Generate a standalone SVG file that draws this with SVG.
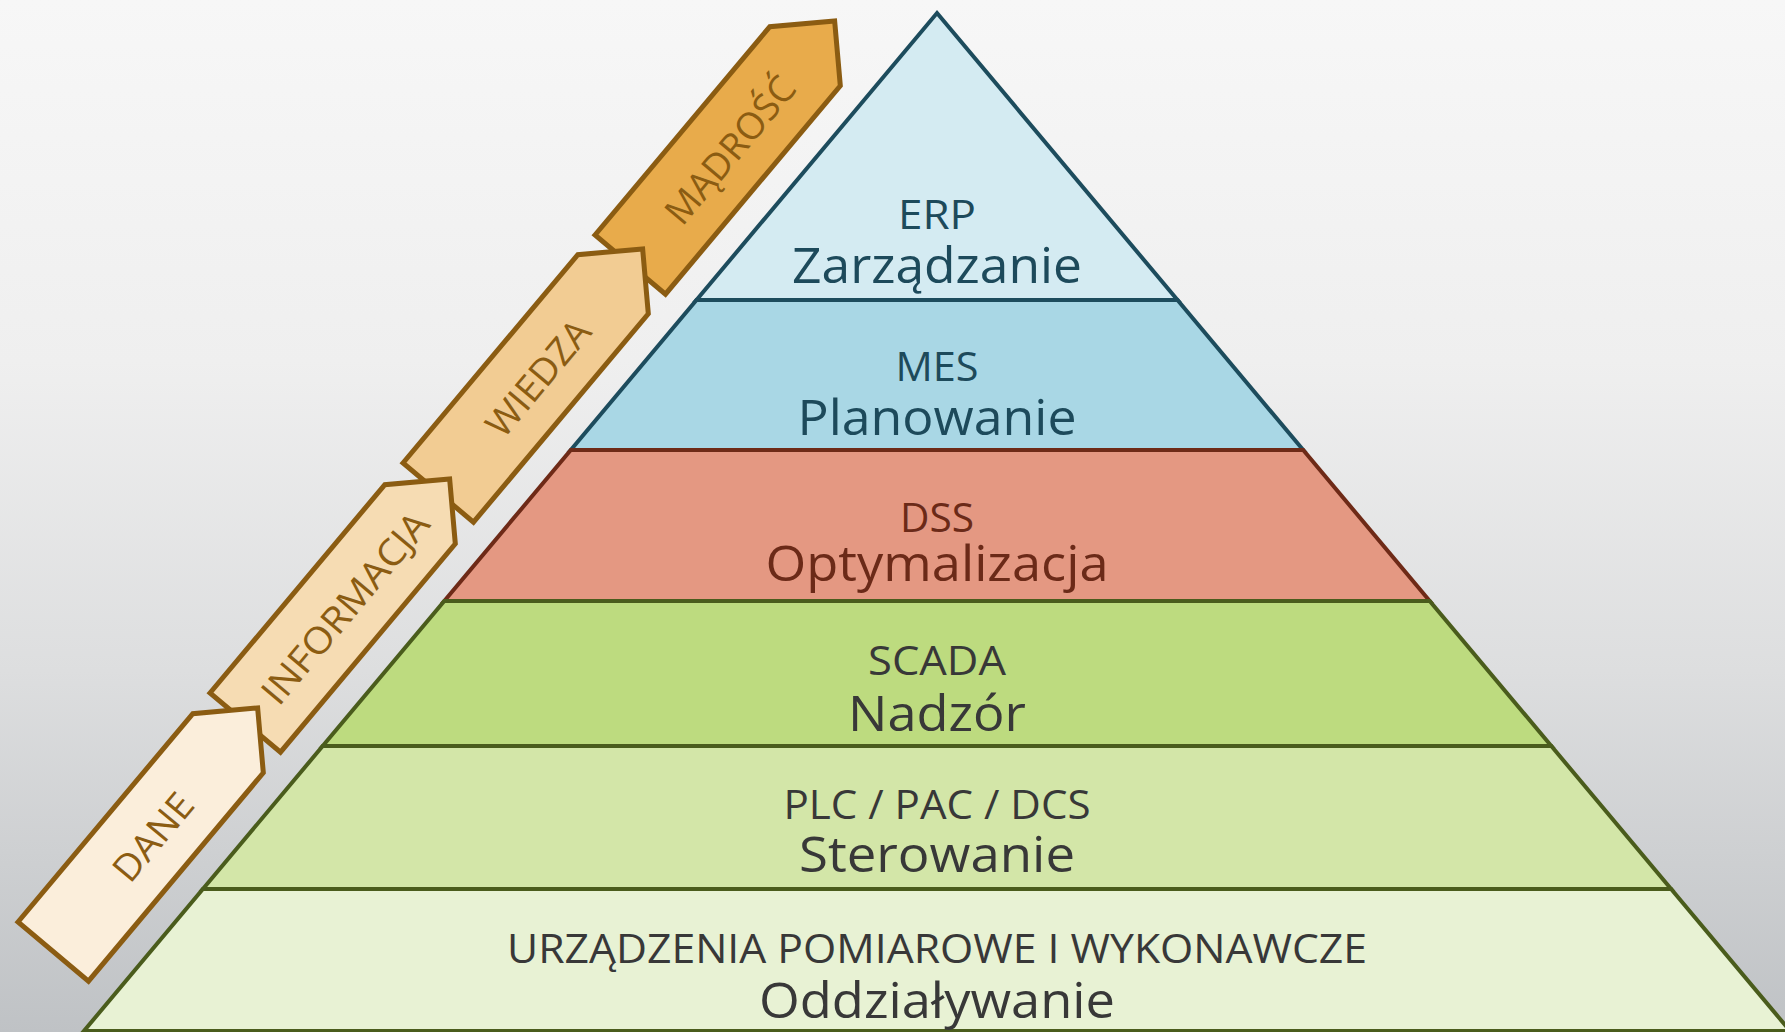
<svg xmlns="http://www.w3.org/2000/svg" width="1785" height="1032" viewBox="0 0 1785 1032">
  <defs>
    <linearGradient id="bg" x1="0" y1="0" x2="0" y2="1">
      <stop offset="0" stop-color="#f7f7f7"/>
      <stop offset="0.35" stop-color="#efefef"/>
      <stop offset="0.65" stop-color="#dddedf"/>
      <stop offset="1" stop-color="#bfc2c5"/>
    </linearGradient>
    <style>
      .layer { stroke-width: 4; stroke-linejoin: miter; }
      .blue { stroke: #1d4c5d; }
      .red { stroke: #6e2a17; }
      .green { stroke: #4a5c1c; }
      .t { font-family: "Open Sans", "Noto Sans", "DejaVu Sans", sans-serif; text-anchor: middle; }
      .small { font-size: 40px; }
      .big { font-size: 50px; }
      .tb { fill: #1d4a5b; }
      .tr { fill: #6b2a18; }
      .tg { fill: #383838; }
      .arrow { stroke: #8b5c12; stroke-width: 5; stroke-linejoin: miter; }
      .at { font-family: "Open Sans", "Noto Sans", "DejaVu Sans", sans-serif; text-anchor: middle; font-size: 37px; fill: #8b5c12; }
    </style>
  </defs>
  <rect x="0" y="0" width="1785" height="1032" fill="url(#bg)"/>

  <g id="layer-erp">
    <polygon class="layer blue" fill="#d4ebf2" points="937,13 1177.5,300 696.5,300"/>
    <text class="t small tb" x="937" y="229" textLength="78" lengthAdjust="spacingAndGlyphs">ERP</text>
    <text class="t big tb" x="937" y="283" textLength="290" lengthAdjust="spacingAndGlyphs">Zarządzanie</text>
  </g>
  <g id="layer-mes">
    <polygon class="layer blue" fill="#a9d7e5" points="696.5,300 1177.5,300 1303.2,450 570.8,450"/>
    <text class="t small tb" x="937" y="381" textLength="83" lengthAdjust="spacingAndGlyphs">MES</text>
    <text class="t big tb" x="937" y="435" textLength="279" lengthAdjust="spacingAndGlyphs">Planowanie</text>
  </g>
  <g id="layer-dss">
    <polygon class="layer red" fill="#e49882" points="570.8,450 1303.2,450 1429.7,601 444.3,601"/>
    <text class="t small tr" x="937" y="532" textLength="74" lengthAdjust="spacingAndGlyphs">DSS</text>
    <text class="t big tr" x="937" y="581" textLength="343" lengthAdjust="spacingAndGlyphs">Optymalizacja</text>
  </g>
  <g id="layer-scada">
    <polygon class="layer green" fill="#bddb7f" points="444.3,601 1429.7,601 1551.3,746 322.7,746"/>
    <text class="t small tg" x="937" y="675" textLength="138" lengthAdjust="spacingAndGlyphs">SCADA</text>
    <text class="t big tg" x="937" y="731" textLength="178" lengthAdjust="spacingAndGlyphs">Nadzór</text>
  </g>
  <g id="layer-plc">
    <polygon class="layer green" fill="#d3e6a8" points="322.7,746 1551.3,746 1671.1,889 202.9,889"/>
    <text class="t small tg" x="937" y="819" textLength="307" lengthAdjust="spacingAndGlyphs">PLC / PAC / DCS</text>
    <text class="t big tg" x="937" y="872" textLength="276" lengthAdjust="spacingAndGlyphs">Sterowanie</text>
  </g>
  <g id="layer-devices">
    <polygon class="layer green" fill="#e8f2d4" points="202.9,889 1671.1,889 1790.1,1031 83.9,1031"/>
    <text class="t small tg" x="937" y="963" textLength="860" lengthAdjust="spacingAndGlyphs">URZĄDZENIA POMIAROWE I WYKONAWCZE</text>
    <text class="t big tg" x="937" y="1018" textLength="356" lengthAdjust="spacingAndGlyphs">Oddziaływanie</text>
  </g>

  <g id="arrow-madrosc" transform="translate(595,235) rotate(-50)">
    <path class="arrow" fill="#e8ab4b" d="M0,0 L272,0 L318,46 L272,92 L0,92 Z"/>
    <text class="at" x="152" y="62" textLength="180" lengthAdjust="spacingAndGlyphs">MĄDROŚĆ</text>
  </g>
  <g id="arrow-wiedza" transform="translate(403,463) rotate(-50)">
    <path class="arrow" fill="#f2cc93" d="M0,0 L272,0 L318,46 L272,92 L0,92 Z"/>
    <text class="at" x="152" y="62" textLength="140" lengthAdjust="spacingAndGlyphs">WIEDZA</text>
  </g>
  <g id="arrow-informacja" transform="translate(210,693) rotate(-50)">
    <path class="arrow" fill="#f6dcb3" d="M0,0 L272,0 L318,46 L272,92 L0,92 Z"/>
    <text class="at" x="152" y="62" textLength="238" lengthAdjust="spacingAndGlyphs">INFORMACJA</text>
  </g>
  <g id="arrow-dane" transform="translate(18,922) rotate(-50)">
    <path class="arrow" fill="#fbeedb" d="M0,0 L272,0 L318,46 L272,92 L0,92 Z"/>
    <text class="at" x="152" y="62" textLength="103" lengthAdjust="spacingAndGlyphs">DANE</text>
  </g>
  <g id="connectors"></g>
</svg>
